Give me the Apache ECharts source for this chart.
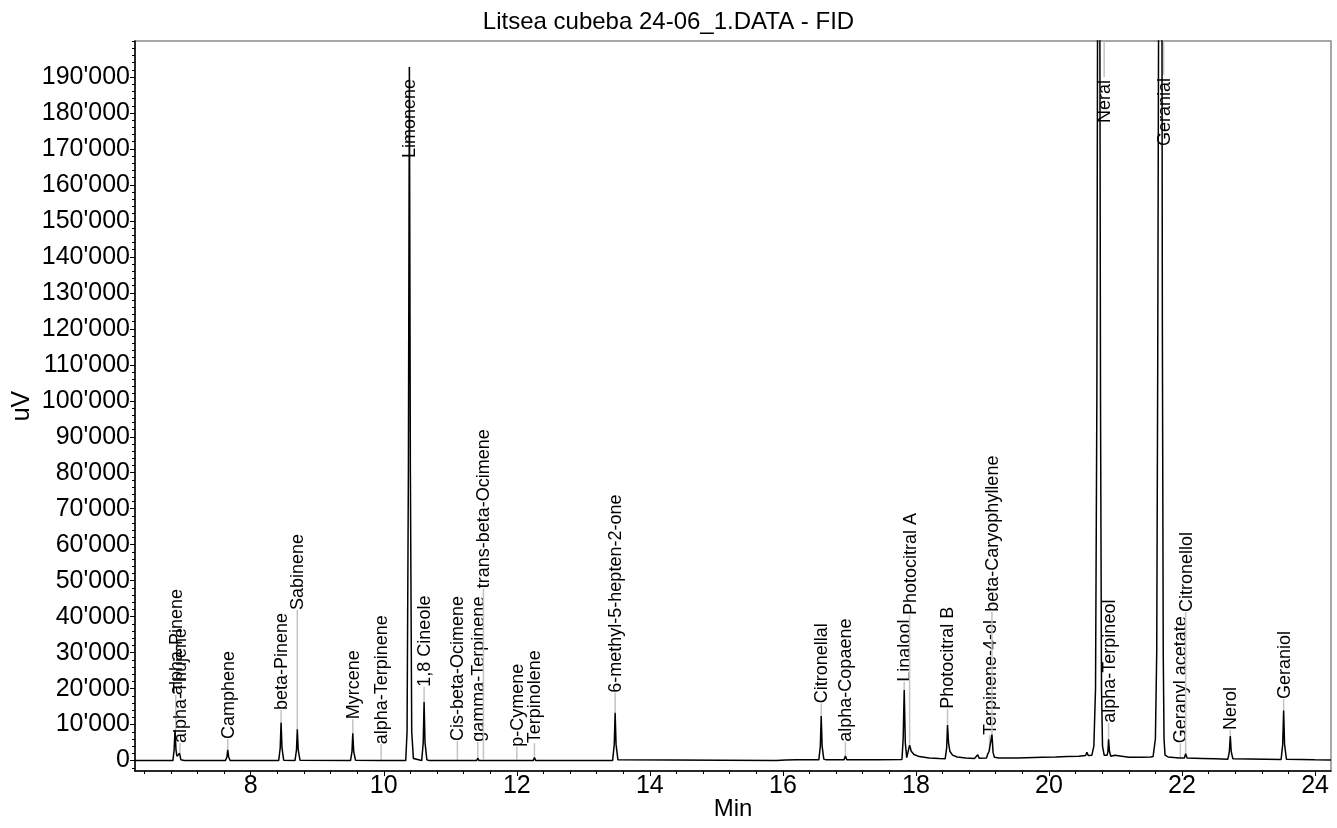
<!DOCTYPE html>
<html>
<head>
<meta charset="utf-8">
<script src="https://cdn.jsdelivr.net/npm/echarts@6/dist/echarts.min.js"></script>
<style>
html,body{margin:0;padding:0;background:#fff;}
#chart{width:1337px;height:828px;}
</style>
</head>
<body>
<div id="chart"></div>
<script>
// ---- data ----
var titleText = "Litsea cubeba 24-06_1.DATA - FID";

// tick labels
var xTicks = [8, 10, 12, 14, 16, 18, 20, 22, 24];
var yTicks = [0, 10000, 20000, 30000, 40000, 50000, 60000, 70000, 80000, 90000, 100000,
              110000, 120000, 130000, 140000, 150000, 160000, 170000, 180000, 190000];

// detector trace [time (min), signal (uV)]
var trace = [
  [6.26, 0], [6.83, 0], [6.848, 3000], [6.862, 8500], [6.876, 3000], [6.89, 1200], [6.93, 2000], [6.95, 200], [7.0, 0],
  [7.62, 0], [7.642, 1000], [7.654, 2950], [7.668, 1000], [7.69, 0],
  [8.42, 0], [8.443, 3500], [8.456, 10600], [8.47, 3500], [8.495, 100],
  [8.665, 0], [8.688, 3000], [8.70, 8700], [8.714, 3000], [8.74, 100],
  [9.50, 0], [9.522, 2500], [9.534, 7600], [9.548, 2500], [9.575, 100],
  [9.94, 0], [9.96, 250], [9.98, 0],
  [10.18, 0], [10.20, 550], [10.22, 0],
  [10.33, 0], [10.35, 8000], [10.37, 80000], [10.385, 192800], [10.40, 80000], [10.42, 8000], [10.445, 600], [10.47, 100],
  [10.57, 0], [10.593, 5000], [10.606, 16300], [10.62, 5000], [10.648, 200], [10.68, 0],
  [11.09, 0], [11.107, 200], [11.125, 0],
  [11.395, 0], [11.413, 650], [11.432, 0],
  [11.48, 0], [11.498, 400], [11.515, 0],
  [11.985, 0], [12.0, 300], [12.015, 0],
  [12.245, 0], [12.265, 800], [12.285, 0],
  [13.44, 0], [13.465, 4500], [13.478, 13300], [13.492, 4500], [13.52, 200], [13.55, 0],
  [15.9, 0], [16.04, 150], [16.05, 400], [16.06, 150], [16.2, 200], [16.21, 450], [16.22, 200],
  [16.54, 200], [16.563, 4000], [16.576, 12400], [16.59, 4000], [16.615, 400], [16.65, 200],
  [16.92, 200], [16.94, 1300], [16.96, 250],
  [17.37, 250], [17.39, 500], [17.41, 250],
  [17.79, 300], [17.808, 6000], [17.824, 19600], [17.84, 5000], [17.862, 800], [17.905, 4300], [17.93, 2600],
  [17.97, 1700], [18.05, 1100], [18.2, 700], [18.35, 550],
  [18.44, 500], [18.462, 3500], [18.475, 9900], [18.49, 5000], [18.51, 2600], [18.55, 1500], [18.62, 1000], [18.75, 700], [18.88, 600],
  [18.91, 600], [18.93, 1600], [18.95, 650],
  [19.06, 700], [19.085, 2000], [19.10, 2600], [19.115, 3000], [19.143, 7200], [19.16, 2200], [19.18, 900], [19.25, 700],
  [19.53, 700], [19.545, 1000], [19.56, 750], [19.9, 900], [20.1, 1000], [20.27, 1100], [20.28, 1600], [20.295, 1100],
  [20.45, 1200], [20.55, 1400], [20.57, 2300], [20.59, 1400], [20.645, 1500],
  [20.675, 4000], [20.70, 20000], [20.72, 100000], [20.735, 250000], [20.748, 400000], [20.76, 260000], [20.775, 100000],
  [20.79, 20000], [20.805, 4000], [20.83, 1500], [20.85, 1300], [20.875, 1500], [20.886, 2500], [20.896, 5900],
  [20.91, 2500], [20.93, 1200], [20.99, 1500], [21.0, 1700], [21.02, 1100], [21.2, 900], [21.4, 900],
  [21.53, 1000], [21.55, 1500], [21.565, 1100],
  [21.575, 1500], [21.60, 6000], [21.62, 30000], [21.635, 110000], [21.65, 220000], [21.675, 480000], [21.695, 260000],
  [21.705, 120000], [21.718, 30000], [21.73, 6000], [21.745, 1500], [21.76, 1100], [21.775, 1600], [21.79, 1000],
  [21.96, 700], [21.975, 900], [21.99, 700],
  [22.035, 700], [22.055, 1900], [22.075, 700],
  [22.3, 600], [22.5, 500],
  [22.69, 400], [22.712, 2500], [22.726, 6800], [22.74, 2500], [22.765, 500],
  [23.49, 300], [23.514, 4500], [23.528, 13900], [23.542, 4500], [23.57, 400],
  [24.0, 200], [24.24, 150]
];

// identified peaks: name, retention time, apex signal, signal level where the label starts
var peakNames = ["alpha-Pinene", "alpha-Thujene", "Camphene", "beta-Pinene", "Sabinene", "Myrcene", "alpha-Terpinene",
  "Limonene", "1,8 Cineole", "Cis-beta-Ocimene", "gamma-Terpinene", "trans-beta-Ocimene", "p-Cymene", "Terpinolene",
  "6-methyl-5-hepten-2-one", "Citronellal", "alpha-Copaene", "Linalool", "Photocitral A", "Photocitral B",
  "Terpinene-4-ol", "beta-Caryophyllene", "Neral", "alpha-Terpineol", "Geranial", "Geranyl acetate", "Citronellol",
  "Nerol", "Geraniol"];
var peakTimes = [6.872, 6.937, 7.654, 8.456, 8.70, 9.534, 9.96, 10.385, 10.606, 11.107, 11.413, 11.498, 12.0, 12.265,
  13.478, 16.576, 16.94, 17.824, 17.905, 18.475, 19.107, 19.143, 20.83, 20.896, 21.723, 21.975, 22.055, 22.726, 23.528];
var peakHeights = [8500, 2000, 2950, 10600, 8700, 7600, 250, 192800, 16300, 200, 650, 400, 300, 800,
  13300, 12400, 1300, 19600, 4300, 9900, 2600, 7200, 400000, 5900, 480000, 900, 1900, 6800, 13900];
var labelLevels = [18230, 4890, 6000, 14060, 41850, 11480, 4530, 167460, 20540, 5450, 5250, 47880, 3860, 4800,
  18870, 15920, 5250, 21930, 40460, 14400, 7110, 41380, 177200, 10530, 170800, 4800, 41300, 8500, 17120];

// ---- chart ----
var FONT = "Liberation Sans, Arial, sans-serif";
var LABEL_SIZE = 18;
var measureCtx = document.createElement('canvas').getContext('2d');
measureCtx.font = LABEL_SIZE + 'px ' + FONT;

var peakData = peakTimes.map(function (t, i) { return [t, peakHeights[i], labelLevels[i]]; });

var minorX = [];
for (var k = 16; k <= 60; k++) { minorX.push(+(k * 0.4).toFixed(2)); }
var minorY = [];
for (var m = -1; m <= 100; m++) { minorY.push(m * 2000); }

function fmt(v) { return String(v).replace(/\B(?=(\d{3})+(?!\d))/g, "'"); }

var chart = echarts.init(document.getElementById('chart'), null, { renderer: 'canvas' });
var option = {
  animation: false,
  backgroundColor: '#fff',
  title: {
    text: titleText, left: 'center', top: 5,
    textStyle: { fontFamily: FONT, fontSize: 24, fontWeight: 'normal', color: '#000' }
  },
  grid: { left: 135, right: 6, top: 41, bottom: 57, containLabel: false, outerBoundsMode: 'none',
          show: true, borderColor: '#8a8a8a', borderWidth: 1.5 },
  xAxis: [{
    type: 'value', min: 6.26, max: 24.24,
    name: 'Min', nameLocation: 'middle', nameGap: 26, nameMoveOverlap: false,
    nameTextStyle: { fontFamily: FONT, fontSize: 24, color: '#000' },
    axisLine: { show: true, onZero: false, lineStyle: { color: '#000', width: 1.5 } },
    axisTick: { show: true, length: 5, inside: false, customValues: xTicks, lineStyle: { color: '#000' } },
    axisLabel: { customValues: xTicks, fontFamily: FONT, fontSize: 25, color: '#000', margin: 3 },
    splitLine: { show: false }
  }, {
    type: 'value', min: 6.26, max: 24.24, position: 'bottom',
    axisLine: { show: false, onZero: false },
    axisTick: { show: true, length: 3, customValues: minorX, lineStyle: { color: '#000' } },
    axisLabel: { show: false }, splitLine: { show: false }
  }],
  yAxis: [{
    type: 'value', min: -2900, max: 200000,
    name: 'uV', nameLocation: 'middle', nameGap: 100, nameRotate: 90, nameMoveOverlap: false,
    nameTextStyle: { fontFamily: FONT, fontSize: 25, color: '#000' },
    axisLine: { show: true, onZero: false, lineStyle: { color: '#000', width: 1.5 } },
    axisTick: { show: true, length: 5, customValues: yTicks, lineStyle: { color: '#000' } },
    axisLabel: { customValues: yTicks, formatter: fmt, fontFamily: FONT, fontSize: 25, color: '#000', margin: 5 },
    splitLine: { show: false }
  }, {
    type: 'value', min: -2900, max: 200000, position: 'left',
    axisLine: { show: false, onZero: false },
    axisTick: { show: true, length: 3, customValues: minorY, lineStyle: { color: '#000' } },
    axisLabel: { show: false }, splitLine: { show: false }
  }],
  series: [{
    type: 'custom', z: 1, clip: false,
    xAxisIndex: 0, yAxisIndex: 0,
    data: peakData,
    encode: { x: 0, y: 1 },
    renderItem: function (params, api) {
      var t = api.value(0);
      var x = api.coord([t, 0])[0];
      var yApex = api.coord([t, api.value(1)])[1];
      var yBase = api.coord([t, api.value(2)])[1];
      var name = peakNames[params.dataIndex];
      var len = measureCtx.measureText(name).width;
      var yTop = yBase - len;
      var top = params.coordSys.y;
      var y1, y2;
      if (yApex >= yBase) { y1 = yApex; y2 = yBase; }
      else { y1 = Math.max(yApex, top); y2 = yTop - 3; }
      return {
        type: 'group',
        children: [{
          type: 'line',
          shape: { x1: x, y1: y1, x2: x, y2: y2 },
          style: { stroke: '#c4c4c4', lineWidth: 1.5 }
        }, {
          type: 'text',
          x: x + 1, y: yBase, rotation: Math.PI / 2,
          style: { text: name, fontSize: LABEL_SIZE, fontFamily: FONT, fill: '#000', align: 'left', verticalAlign: 'middle' }
        }]
      };
    }
  }, {
    type: 'line', z: 2, xAxisIndex: 0, yAxisIndex: 0,
    data: trace, showSymbol: false, symbol: 'none', clip: true,
    lineStyle: { color: '#000', width: 1.5 }
  }]
};
chart.setOption(option);
</script>
</body>
</html>
